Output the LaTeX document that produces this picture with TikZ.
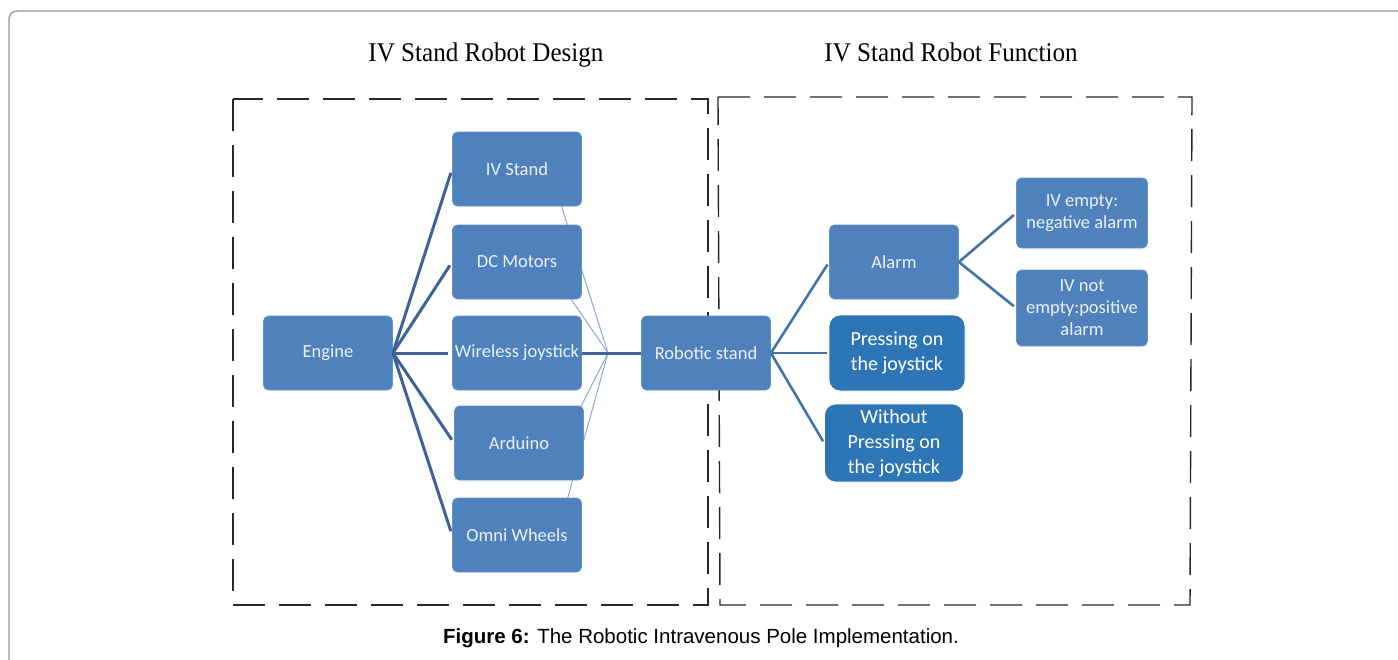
\documentclass[tikz,border=0pt]{standalone}
\usepackage{fontspec}
\newfontfamily\titlefont{Liberation Serif}
\newfontfamily\boxfont{Carlito}
\newfontfamily\capfont{Liberation Sans}
\usetikzlibrary{calc}
\definecolor{boxblue}{RGB}{79,129,189}
\definecolor{boxedge}{RGB}{98,145,200}
\definecolor{deepblue}{RGB}{46,117,182}
\definecolor{linkblue}{RGB}{62,98,152}
\definecolor{linkright}{RGB}{68,114,170}
\definecolor{thinblue}{RGB}{140,168,208}
\definecolor{boxtext}{RGB}{236,241,248}
\definecolor{framegray}{RGB}{150,150,150}
\pgfdeclarelayer{background}
\pgfsetlayers{background,main}
\tikzset{
  unit/.style={rectangle, rounded corners=5pt, fill=boxblue, draw=boxedge, line width=0.8pt,
    minimum width=129pt, minimum height=74pt, align=center, text=boxtext,
    font=\boxfont\fontsize{18.5}{22}\selectfont, inner sep=2pt},
  small/.style={unit, minimum width=131pt, minimum height=70pt},
  press/.style={rectangle, rounded corners=11pt, fill=deepblue, draw=white, line width=0.8pt,
    minimum width=136pt, minimum height=76pt, align=center, text=white,
    font=\boxfont\fontsize{20}{25}\selectfont, inner sep=2pt},
  thick link/.style={draw=linkblue, line width=3pt},
  right link/.style={draw=linkright, line width=2.6pt},
  thin link/.style={draw=thinblue, line width=1pt},
  panel/.style={draw=black!85, line width=1.4pt, dash pattern=on 32pt off 14pt},
  heading/.style={font=\titlefont\fontsize{27}{30}\selectfont, text=black, anchor=base,
    xscale=0.93, transform shape},
}
\begin{document}
\begin{tikzpicture}[x=1pt, y=-1pt]
\useasboundingbox (0,0) rectangle (1398,659);

% page frame
\draw[framegray, line width=1.4pt] (9,700) -- (9,19) arc[start angle=180, end angle=270, radius=8] -- (1420,11);

% headings
\node[heading] (h1) at (486,61) {IV Stand Robot Design};
\node[heading] (h2) at (951,61) {IV Stand Robot Function};

% left column of parts
\node[unit] (engine) at (328,353) {Engine};
\node[unit] (ivs)    at (517,169) {IV Stand};
\node[unit] (dcm)    at (517,262) {DC Motors};
\node[unit] (wj)     at (517,353) {Wireless joystick};
\node[unit] (ard)    at (519,443) {Arduino};
\node[unit] (omni)   at (517,535) {Omni Wheels};
\node[unit] (rstand) at (706,353) {Robotic stand};

% functions
\node[unit]  (alarm) at (894,262) {Alarm};
\node[press] (press) at (897,353) {Pressing on\\the joystick};
\node[press, minimum width=139pt, minimum height=78pt] (nopress) at (894,443) {Without\\Pressing on\\the joystick};
\node[small] (empty)    at (1082,213) {IV empty:\\negative alarm};
\node[small, minimum height=76pt] (notempty) at (1082,308) {IV not\\empty:positive\\alarm};

% junction of the thin links and their ends inside the boxes
\coordinate (J)  at (608,353);
\coordinate (t1) at (558,195);
\coordinate (t2) at (558,280);
\coordinate (t3) at (569,430);
\coordinate (t4) at (563,515);

\begin{pgfonlayer}{background}
  % dashed panels
  \draw[panel] (233,99) rectangle (708,605);
  \draw[panel] (718,97) -- (1192,97) -- (1190,605) -- (720,605) -- cycle;
  % thin links gathered at the junction
  \foreach \t in {t1,t2,t3,t4} \draw[thin link] (J) -- (\t);
\end{pgfonlayer}

% engine to parts
\foreach \b in {ivs,dcm,wj,ard,omni}
  \draw[thick link, shorten >=4pt] (engine.east) -- (\b.west);
\draw[thick link] (wj.east) -- (J) -- (rstand.west);

% robotic stand to functions
\draw[right link, shorten >=3pt] (rstand.east) -- (alarm.west);
\draw[right link, shorten >=2pt] (rstand.east) -- (press.west);
\draw[right link, shorten >=2pt] (rstand.east) -- (nopress.west);
\draw[right link, shorten >=3pt] (alarm.east) -- (empty.west);
\draw[right link, shorten >=3pt] (alarm.east) -- (notempty.west);

% caption
\node[font=\capfont\fontsize{20.5}{24}\selectfont] (cap) at (701,638)
  {\textbf{Figure 6:} The Robotic Intravenous Pole Implementation.};
\end{tikzpicture}
\end{document}
